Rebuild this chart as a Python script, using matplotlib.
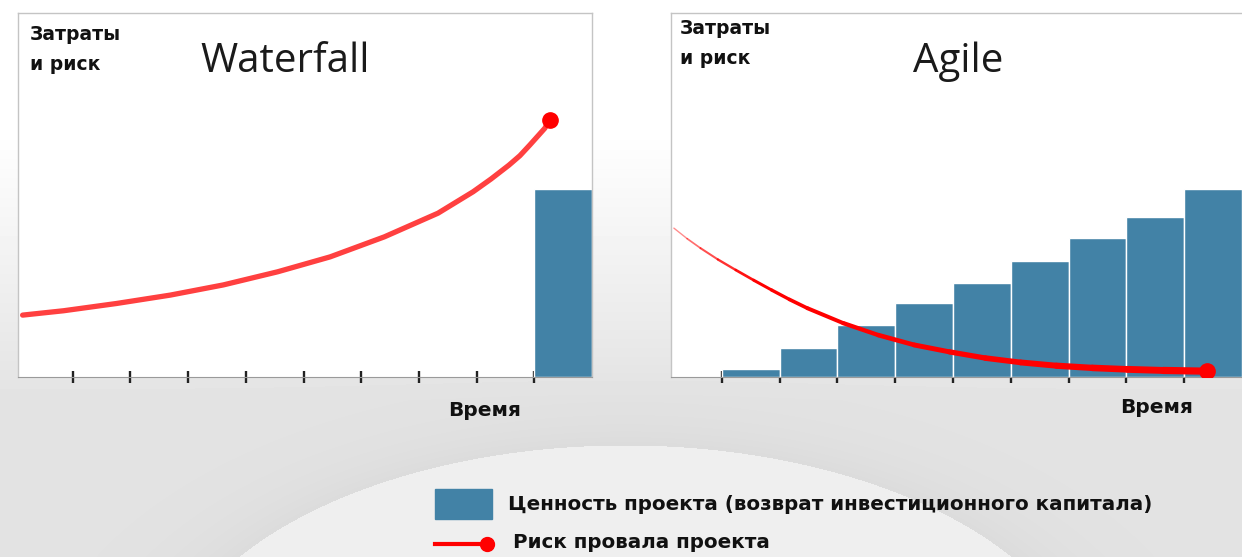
import numpy as np
import matplotlib.pyplot as plt
from matplotlib.collections import LineCollection
from matplotlib.patches import Rectangle
from matplotlib.lines import Line2D

# --- data (x in "time step" units, y in 0..100 of the panel height) ---
ticks = [1, 2, 3, 4, 5, 6, 7, 8, 9]

wf_x = [0.13, 0.84, 1.76, 2.69, 3.61, 4.55, 5.46, 6.40, 7.33, 7.94, 8.25, 8.56,
        8.75, 8.92, 9.05, 9.18, 9.27]
wf_y = [17.0, 18.2, 20.2, 22.5, 25.3, 28.9, 33.0, 38.5, 45.0, 50.9, 54.4, 58.2,
        60.8, 63.7, 66.0, 68.3, 70.6]
wf_bar_x = [9]
wf_bar_h = [51.6]

ag_x = [0.17, 0.40, 0.63, 0.93, 1.24, 1.55, 1.86, 2.17, 2.48, 3.10, 3.71, 4.33,
        4.94, 5.56, 6.17, 6.79, 7.41, 8.02, 8.64, 9.40]
ag_y = [40.9, 38.0, 35.4, 32.3, 29.4, 26.6, 23.9, 21.3, 18.9, 14.8, 11.5, 8.8,
        6.9, 5.2, 4.0, 3.1, 2.5, 2.1, 1.8, 1.6]
ag_bar_x = [1, 2, 3, 4, 5, 6, 7, 8, 9]
ag_bar_h = [2.2, 8.0, 14.3, 20.3, 25.8, 31.9, 38.2, 44.0, 51.6]

y_label = "Затраты\nи риск"
x_label = "Время"
legend_value = "Ценность проекта (возврат инвестиционного капитала)"
legend_risk = "Риск провала проекта"

BLUE = "#4282a6"
RED = "#ff0000"
W, H = 1242, 557
BOLD = dict(fontweight="bold", family="DejaVu Sans", color="#111111")

fig = plt.figure(figsize=(W / 100, H / 100), dpi=100)

# background: light gradient with a pale ellipse at the bottom
bg = fig.add_axes([0, 0, 1, 1], zorder=-1)
yy, xx = np.mgrid[0:H, 0:W]
base = np.clip(1.0 - (yy - 130) / 270 * 0.11, 0.89, 1.0)
d = np.sqrt(((xx - 625) / 467) ** 2 + ((yy - 700) / 255) ** 2)
img = np.where(d < 1, 0.935, base - 0.03 * np.exp(-(d - 1) / 0.12))
bg.imshow(img, cmap="gray", vmin=0, vmax=1, extent=(0, W, H, 0), aspect="auto",
          interpolation="bilinear")
bg.set_xlim(0, W)
bg.set_ylim(H, 0)
bg.axis("off")

# legend, drawn by hand like the slide
bg.add_patch(Rectangle((435, 489), 57, 30, color=BLUE))
bg.text(508, 505, legend_value, fontsize=14.3, va="center", ha="left", **BOLD)
bg.add_line(Line2D([435, 483], [544, 544], color=RED, lw=3))
bg.plot([487], [544], "o", color=RED, ms=10)
bg.text(513, 543, legend_risk, fontsize=14.3, va="center", ha="left", **BOLD)


def panel(rect, xmin, title, tx, lx, ly):
    ax = fig.add_axes(rect)
    ax.set_xlim(xmin, 10)
    ax.set_ylim(0, 100)
    ax.set_axisbelow(True)
    ax.set_xticks(ticks)
    ax.set_xticklabels([])
    ax.set_yticks([])
    ax.tick_params(axis="x", direction="inout", length=9, width=1.7, color="#222222")
    for s in ["left", "top", "right"]:
        ax.spines[s].set_color("#c4c4c4")
        ax.spines[s].set_linewidth(1.0)
    ax.spines["bottom"].set_color("#9a9a9a")
    ax.text(tx, 0.838, title, transform=ax.transAxes, ha="center", va="baseline",
            fontsize=29, family="Open Sans", color="#1a1a1a")
    ax.text(lx, ly, y_label, transform=ax.transAxes, ha="left", va="top",
            fontsize=13.5, linespacing=1.75, **BOLD)
    return ax


ax1 = panel([18 / W, 180 / H, 574 / W, 364 / H], 0.05, "Waterfall", 0.465, 0.021, 0.967)
ax1.bar(wf_bar_x, wf_bar_h, width=1, align="edge", color=BLUE, edgecolor="white", lw=1)
ax1.plot(wf_x, wf_y, color="#ff3535", lw=3.8, alpha=0.95, solid_capstyle="round",
         solid_joinstyle="round")
ax1.plot(wf_x[-1], wf_y[-1], "o", color=RED, ms=11)

ax2 = panel([671 / W, 180 / H, 571 / W, 364 / H], 0.12, "Agile", 0.503, 0.016, 0.983)
ax2.spines["right"].set_visible(False)
ax2.bar(ag_bar_x, ag_bar_h, width=1, align="edge", color=BLUE, edgecolor="white", lw=1)
pts = np.column_stack([ag_x, ag_y])
segs = np.stack([pts[:-1], pts[1:]], axis=1)
n = len(segs)
widths = np.linspace(1.0, 5.2, n)
cols = [(1.0, 0.0, 0.0, min(1.0, 0.45 + 0.12 * i)) for i in range(n)]
ax2.add_collection(LineCollection(segs, linewidths=widths, colors=cols, capstyle="round",
                                  joinstyle="round", zorder=3))
ax2.plot(ag_x[-1], ag_y[-1], "o", color=RED, ms=11, zorder=4)

fig.text(485 / W, 1 - 416 / H, x_label, ha="center", va="baseline", fontsize=14.5, **BOLD)
fig.text(1157 / W, 1 - 413 / H, x_label, ha="center", va="baseline", fontsize=14.5, **BOLD)

fig.savefig("out.png", dpi=100)
